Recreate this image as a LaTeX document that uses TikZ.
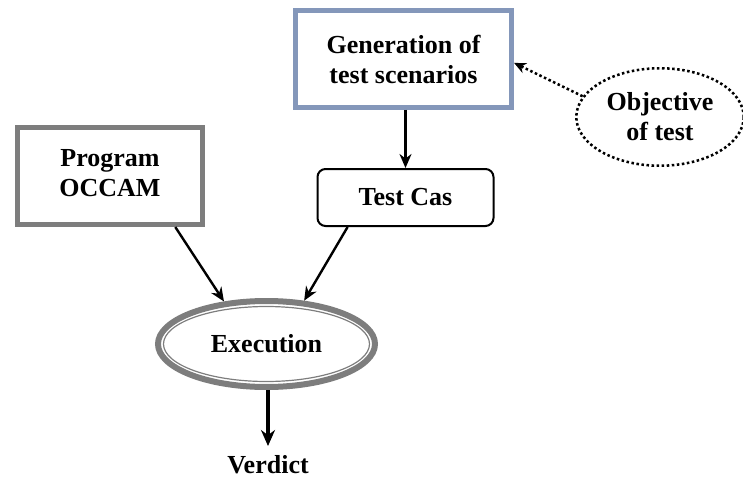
\documentclass[tikz,border=0pt]{standalone}
\usepackage{fontspec}
\setmainfont{Liberation Serif}
\usetikzlibrary{shapes.geometric,arrows.meta}
\definecolor{genblue}{RGB}{132,151,186}
\definecolor{boxgray}{RGB}{125,125,125}
\begin{document}
\begin{tikzpicture}[x=0.75pt,y=-0.75pt,
  font=\fontsize{19.5}{22.5}\selectfont\bfseries,
  genbox/.style={draw=genblue, line width=3.75pt, fill=white, align=center,
    minimum width=162pt, minimum height=72.75pt, inner sep=0pt},
  progbox/.style={draw=boxgray, line width=3.75pt, fill=white, align=center,
    minimum width=138.75pt, minimum height=72.75pt, inner sep=0pt},
  tcbox/.style={draw=black, line width=1.5pt, rounded corners=6pt, align=center,
    minimum width=132pt, minimum height=42.75pt, inner sep=0pt},
  objell/.style={ellipse, draw=black, line width=1.9pt, dash pattern=on 1.9pt off 1.9pt,
    align=center, minimum width=125.6pt, minimum height=73.1pt, inner sep=0pt},
  execouter/.style={ellipse, draw=boxgray, line width=4.5pt, align=center,
    minimum width=162.75pt, minimum height=64.5pt, inner sep=0pt},
  execinner/.style={ellipse, draw=boxgray, line width=0.9pt,
    minimum width=154.5pt, minimum height=56.25pt, inner sep=0pt},
  arr/.style={-{Stealth[length=10.5pt,width=9pt]}, line width=1.8pt},
  dotarr/.style={-{Stealth[length=9pt,width=8pt]}, line width=1.9pt, dash pattern=on 1.9pt off 1.9pt}
]
\useasboundingbox (0,0) rectangle (743,478);

\node[genbox] (gen) at (403.5,59) {Generation of\\test scenarios};
\node[progbox] (prog) at (110,176) {\raisebox{4pt}{\begin{tabular}{@{}c@{}}Program\\OCCAM\end{tabular}}};
\node[tcbox] (tc) at (405.5,197.5) {Test Cas};
\node[objell] (obj) at (660,117) {Objective\\of test};
\node[execinner] (execin) at (266.5,344) {};
\node[execouter] (exec) at (266.5,344) {Execution};
\node[anchor=north, inner sep=0pt] (verdict) at (268,455) {Verdict};

\draw[arr] (gen.south -| tc.north) -- (tc.north);
\draw[dotarr] (obj.165) -- (gen.-2);
\draw[arr] (prog.-38) -- (exec.135);
\draw[arr] (tc.207) -- (exec.49);
\draw[-{Stealth[length=12pt,width=10.5pt]}, line width=2.6pt] (exec.south -| verdict.north) -- ([yshift=6.75pt]verdict.north);
\end{tikzpicture}
\end{document}
